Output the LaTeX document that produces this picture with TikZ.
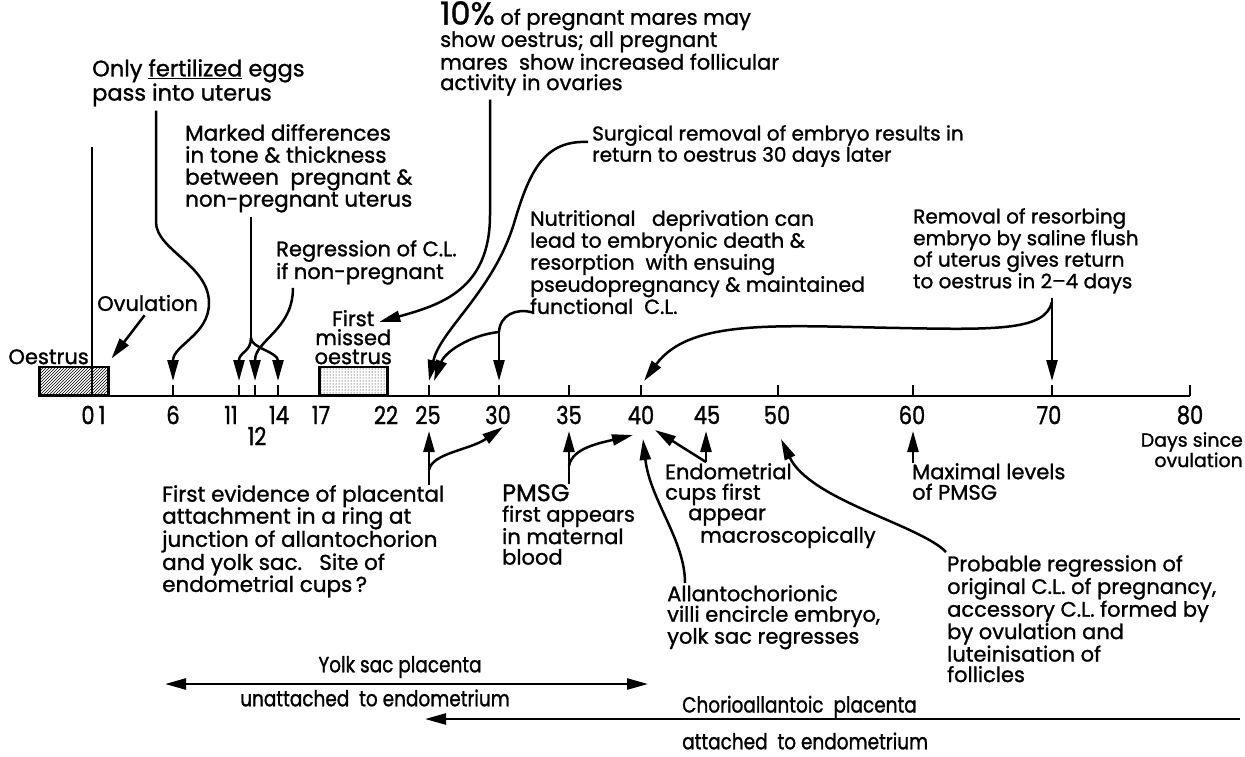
\documentclass[tikz,border=0pt]{standalone}
\usepackage{fontspec}
\setmainfont{Poppins}[FakeBold=1.2]
\newfontfamily\narrowfont{Poppins}[FakeBold=1.2,FakeStretch=0.84]
\usepackage{tikz}
\usetikzlibrary{arrows.meta,patterns,positioning,calc}
\tikzstyle{note}=[align=left,inner sep=0pt,anchor=north west,font=\fontsize{21}{20.5}\selectfont]
\tikzstyle{daynum}=[inner sep=0pt,font=\narrowfont\fontsize{25}{25}\selectfont]
\tikzstyle{stem}=[line width=2.5pt]
\tikzstyle{pointer}=[line width=2.5pt,-{Triangle[length=21pt,width=11pt]}]
\tikzstyle{period}=[draw,line width=2.5pt,inner sep=0pt,minimum height=28pt,anchor=south west]

\begin{document}
\begin{tikzpicture}[x=1pt,y=-1pt]
\path[fill=white,use as bounding box] (0,0) rectangle (1245,756);

\foreach \d/\x in {0/92,1/107,6/173,11/239,12/255,14/278,17/320,22/386,25/429,30/499,35/569,40/641,45/706,50/778,60/913,70/1052,80/1190}{
  \coordinate (t\d) at (\x,396);
  \coordinate (u\d) at (\x,381);
  \coordinate (b\d) at (\x,431);
}
\draw[line width=2.8pt] (38,396) -- (t80);
\foreach \d in {6,11,12,14,25,30,35,40,50,60,70,80}
  \draw[stem] (t\d) -- ++(0,-11);

\foreach \d/\x in {0/88,1/102,6/173,11/231,14/279,17/321,22/386,25/428,30/498,35/569,40/641,45/707,50/777,60/912,70/1049,80/1190}
  \node[daynum] (l\d) at (\x,415) {\d};
\node[daynum] (l12) at (257,436) {12};
\node[note,align=right,anchor=north east,font=\fontsize{19}{16}\selectfont] (days) at (1243,432) {Days since\\ovulation};

\node[period,pattern=north east lines,minimum width=69pt] (box1) at (38,396) {};
\node[period,pattern=dots,minimum width=68pt] (box2) at (318,396) {};
\coordinate (d0top) at (92,147);
\draw[stem] (d0top) -- (t0);
\node[note,anchor=south east] (oest) at ([xshift=-3pt,yshift=1pt]t0 |- box1.north) {Oestrus};
\node[note,align=center,anchor=south,font=\fontsize{21}{19}\selectfont] (missed) [above=1pt of box2] {First\\missed\\oestrus};
\node[note,anchor=west] (ovul) at (97,303) {Ovulation};

\node[note,font=\fontsize{22.5}{22}\selectfont] (fert) at (92,59) {Only \underline{fertilized} eggs\\pass into uterus};
\node[note] (tenpc) at (440,1) {{\fontsize{32}{28}\selectfont 10\%}\ of pregnant mares may\\show oestrus; all pregnant\\mares\ \ show increased follicular\\activity in ovaries};
\node[note,font=\fontsize{21.5}{22}\selectfont] (marked) at (185,124) {Marked differences\\in tone \& thickness\\between\ \ pregnant \&\\non-pregnant uterus};
\node[note,font=\fontsize{20}{20}\selectfont] (surg) at (592,125) {Surgical removal of embryo results in\\return to oestrus 30 days later};
\node[note] (regr) at (276,240) {Regression of C.L.\\if non-pregnant};
\node[note,font=\fontsize{20.5}{20}\selectfont] (nutr) at (530,210) {Nutritional\ \ \ deprivation can\\lead to embryonic death \&\\resorption\ \ with ensuing\\pseudopregnancy \& maintained\\functional\ \ C.L.};
\node[note,font=\fontsize{20}{20}\selectfont] (remov) at (913,208) {Removal of resorbing\\embryo by saline flush\\of uterus gives return\\to oestrus in 2--4 days};

\node[note,font=\fontsize{21.5}{22}\selectfont] (firstev) at (162,485) {First evidence of placental\\attachment in a ring at\\junction of allantochorion\\and yolk sac.\ \ \ Site of\\endometrial cups\,?};
\node[note] (pmsg) at (502,484) {{\fontsize{24}{23}\selectfont PMSG}\\first appears\\in maternal\\blood};
\node[note] (endo) at (665,463) {Endometrial\\cups first\\\hspace*{23pt}appear\\\hspace*{35pt}macroscopically};
\node[note] (allan) at (667,585) {Allantochorionic\\villi encircle embryo,\\yolk sac regresses};
\node[note] (maxim) at (912,463) {Maximal levels\\of PMSG};
\node[note] (prob) at (947,555) {Probable regression of\\original C.L. of pregnancy,\\accessory C.L. formed by\\by ovulation and\\luteinisation of\\follicles};

\node[note,anchor=center,font=\narrowfont\fontsize{22}{22}\selectfont] (yolk) at (400,667) {Yolk sac placenta};
\node[note,anchor=center,font=\narrowfont\fontsize{22}{22}\selectfont] (unatt) at (375,698) {unattached\ \ to endometrium};
\node[note,anchor=west,font=\narrowfont\fontsize{22}{22}\selectfont] (chorio) at (682,707) {Chorioallantoic\ \ placenta};
\node[note,anchor=west,font=\narrowfont\fontsize{22}{22}\selectfont] (attach) at (682,741) {attached\ \ to endometrium};

\draw[pointer] ([xshift=-3pt,yshift=-4pt]ovul.south) -- ($(box1.north east)+(2,-7)$);
\draw[pointer] ($(fert.south west)+(64,4)$) -- (156,222) .. controls (156,250) and (209,265) .. (209,303) .. controls (209,335) and (173,345) .. (u6);
\coordinate (msplit) at (251,338);
\draw[stem] ($(marked.south west)+(66,4)$) -- (msplit);
\draw[pointer] (msplit) .. controls (251,352) and (239,352) .. (u11);
\draw[pointer] (msplit) .. controls (251,348) and (278,352) .. (u14);
\draw[pointer] ($(regr.south west)+(17,3)$) .. controls (293,330) and (255,340) .. (u12);
\draw[pointer] ($(tenpc.south west)+(50,4)$) -- (490,215) .. controls (490,290) and (440,305) .. ($(missed.north)+(26,12)$);
\draw[pointer] ($(surg.north west)+(-4,17)$) .. controls (545,140) and (530,170) .. (515,220) .. controls (495,290) and (440,330) .. (u25);
\coordinate (nsplit) at (499,332);
\draw[stem] ($(nutr.south west)+(2,-2)$) .. controls (516,308) and (500,315) .. (nsplit);
\draw[pointer] (nsplit) -- (u30);
\draw[pointer] (nsplit) .. controls (470,335) and (445,352) .. ($(u25)+(5,0)$);
\coordinate (rsplit) at (1052,302);
\draw[pointer] ($(remov.south west)+(139,4)$) -- (u70);
\draw[pointer] (rsplit) .. controls (1045,330) and (1000,330) .. (900,328) .. controls (780,326) and (690,318) .. ($(u40)+(3,0)$);

\coordinate (fsplit) at (429,470);
\draw[pointer] (t25 |- firstev.north) -- (b25);
\draw[pointer] (fsplit) .. controls (432,453) and (470,450) .. ($(b30)+(4,-4)$);
\coordinate (psplit) at (569,466);
\draw[pointer] (t35 |- pmsg.north) -- (b35);
\draw[pointer] (psplit) .. controls (572,448) and (600,443) .. ($(b40)+(-8,4)$);
\draw[pointer] ($(allan.north west)+(18,-2)$) .. controls (685,540) and (650,500) .. ($(b40)+(2,8)$);
\coordinate (esplit) at (706,462);
\draw[pointer] (esplit) -- (b45);
\draw[pointer] (esplit) -- ($(b40)+(14,-1)$);
\draw[pointer] (t60 |- maxim.north) -- (b60);
\draw[pointer] ($(prob.north west)+(-1,-3)$) .. controls (920,525) and (810,500) .. ($(b50)+(3,8)$);

\coordinate (ysL) at (165,684);
\coordinate (ysR) at (648,684);
\draw[line width=2.5pt,{Triangle[length=21pt,width=11pt]}-{Triangle[length=21pt,width=11pt]}] (ysL) -- (ysR);
\coordinate (chR) at (1240,719);
\coordinate (chL) at (425,719);
\draw[pointer] (chR) -- (chL);
\end{tikzpicture}
\end{document}
